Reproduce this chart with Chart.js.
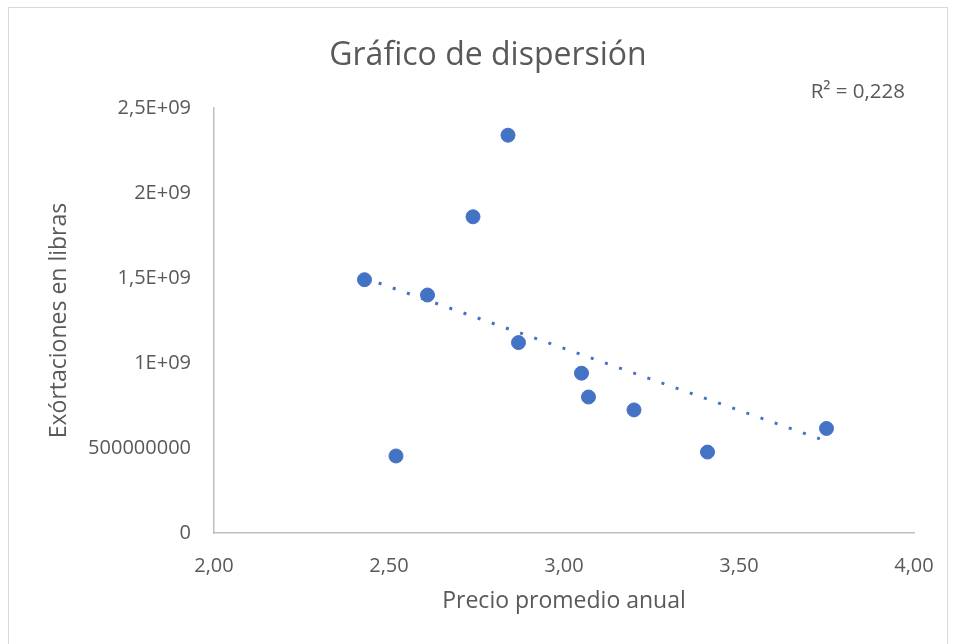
<!DOCTYPE html>
<html lang="es">
<head>
  <meta charset="UTF-8">
  <title>Gráfico de dispersión</title>
  <script src="https://cdn.jsdelivr.net/npm/chart.js"></script>
  <style>
    body {
      margin: 0;
      background: #ffffff;
    }
    .frame {
      position: absolute;
      left: 8px;
      top: 7px;
      width: 940px;
      height: 640px;
      border: 1px solid #d9d9d9;
      box-sizing: border-box;
    }
    .wrap {
      position: absolute;
      left: 0;
      top: 0;
      width: 956px;
      height: 644px;
    }
  </style>
</head>
<body>
  <div class="frame"></div>
  <div class="wrap"><canvas id="scatterChart" width="956" height="644"></canvas></div>

  <script>
    // Valores
    const precios = [2.43, 2.52, 2.61, 2.74, 2.84, 2.87, 3.05, 3.07, 3.20, 3.41, 3.75];
    const exportaciones = [1.49e9, 0.453e9, 1.40e9, 1.86e9, 2.34e9, 1.12e9, 0.94e9, 0.80e9, 0.724e9, 0.476e9, 0.615e9];

    // Extremos de la línea de tendencia lineal
    const tendenciaX = [2.43, 3.75];
    const tendenciaY = [1.50e9, 0.54e9];
    const tituloTexto = 'Gráfico de dispersión';
    const r2Texto = 'R² = 0,228';

    const xTicks = ['2,00', '2,50', '3,00', '3,50', '4,00'];
    const yTicks = ['0', '500000000', '1E+09', '1,5E+09', '2E+09', '2,5E+09'];

    const font = '"Open Sans", "Noto Sans", sans-serif';
    const gris = '#595959';
    const azul = '#4472C4';

    // Título y etiqueta R² como en Excel
    const textos = {
      id: 'textos',
      afterDraw(chart) {
        const ctx = chart.ctx;
        const area = chart.chartArea;
        ctx.save();
        ctx.fillStyle = gris;

        ctx.font = '32px ' + font;
        ctx.textAlign = 'center';
        ctx.textBaseline = 'alphabetic';
        ctx.fillText(tituloTexto, chart.width / 2 + 10, area.top - 43);

        ctx.font = '20.5px ' + font;
        ctx.textAlign = 'right';
        ctx.textBaseline = 'middle';
        ctx.fillText(r2Texto, area.right - 9, area.top - 16);
        ctx.restore();
      }
    };

    new Chart(document.getElementById('scatterChart'), {
      type: 'scatter',
      data: {
        datasets: [
          {
            label: 'Tendencia',
            data: tendenciaX.map((x, i) => ({ x: x, y: tendenciaY[i] })),
            showLine: true,
            borderColor: azul,
            borderWidth: 3,
            borderDash: [3, 12],
            pointRadius: 0,
            order: 0
          },
          {
            label: 'Exportaciones',
            data: precios.map((x, i) => ({ x: x, y: exportaciones[i] })),
            backgroundColor: azul,
            borderColor: azul,
            borderWidth: 1,
            pointRadius: 7,
            order: 1
          }
        ]
      },
      options: {
        responsive: false,
        animation: false,
        layout: {
          padding: { left: 0, right: 42, top: 108, bottom: 0 }
        },
        plugins: {
          legend: { display: false },
          tooltip: { enabled: false },
          title: { display: false }
        },
        scales: {
          x: {
            type: 'linear',
            min: 2,
            max: 4,
            grid: { display: false, drawTicks: false },
            border: { display: true, color: '#bfbfbf', width: 1.5 },
            ticks: {
              stepSize: 0.5,
              padding: 21,
              color: gris,
              font: { family: font, size: 20 },
              callback: (v, i) => xTicks[i]
            },
            title: {
              display: true,
              text: 'Precio promedio anual',
              color: gris,
              font: { family: font, size: 23 },
              padding: { top: 0, bottom: 29 }
            },
            afterFit(scale) { scale.height = 111; }
          },
          y: {
            type: 'linear',
            min: 0,
            max: 2.5e9,
            grid: { display: false, drawTicks: false },
            border: { display: true, color: '#bfbfbf', width: 1.5 },
            ticks: {
              stepSize: 5e8,
              padding: 23,
              color: gris,
              font: { family: font, size: 20 },
              callback: (v, i) => yTicks[i]
            },
            title: {
              display: true,
              text: 'Exórtaciones en libras',
              color: gris,
              font: { family: font, size: 23 },
              padding: { top: 46, bottom: 0 }
            },
            afterFit(scale) { scale.width = 214; }
          }
        }
      },
      plugins: [textos]
    });
  </script>
</body>
</html>
